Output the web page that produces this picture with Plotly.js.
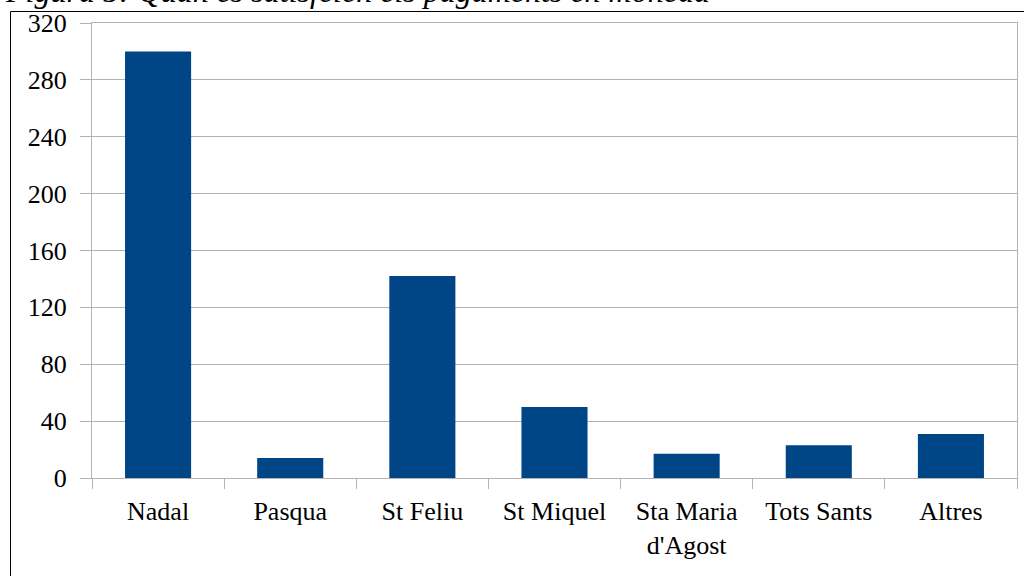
<!DOCTYPE html>
<html>
<head>
<meta charset="utf-8">
<script src="https://cdn.plot.ly/plotly-3.0.1.min.js"></script>
<style>
html,body{margin:0;padding:0;background:#fff;}
#chart{width:1024px;height:576px;}
</style>
</head>
<body>
<div id="chart"></div>
<script>
const titleText = "Figura 5: Quan es satisfeien els pagaments en moneda";
const categories = ["Nadal", "Pasqua", "St Feliu", "St Miquel", "Sta Maria<br>d'Agost", "Tots Sants", "Altres"];
const values = [300, 14, 142, 50, 17, 23, 31];
const yTicks = [0, 40, 80, 120, 160, 200, 240, 280, 320];

const W = 1024, H = 576;
const L = 92, R = 7, T = 23, B = 98;
const pw = W - L - R, ph = H - T - B;
const px2x = p => (p - L) / pw;
const py2y = p => (H - B - p) / ph;

const grid = '#b3b3b3';
const font = {family: '"Liberation Serif", "Times New Roman", serif', size: 26, color: '#000'};

const trace = {
  type: 'bar',
  x: categories,
  y: values,
  marker: {color: '#004586'},
  hoverinfo: 'x+y'
};

const layout = {
  width: W, height: H,
  margin: {l: L, r: R, t: T, b: B, pad: 0},
  paper_bgcolor: '#fff',
  plot_bgcolor: '#fff',
  showlegend: false,
  bargap: 0.5,
  font: font,
  xaxis: {
    type: 'category',
    tickson: 'boundaries',
    ticks: 'outside',
    ticklen: 10,
    tickcolor: grid,
    tickwidth: 1,
    showgrid: false,
    showline: true,
    linecolor: grid,
    linewidth: 1,
    mirror: true,
    tickfont: font,
    ticklabelstandoff: 10,
    fixedrange: true
  },
  yaxis: {
    range: [0, 320],
    tickvals: yTicks,
    ticktext: yTicks.map(String),
    ticks: 'outside',
    ticklen: 11,
    tickcolor: grid,
    tickwidth: 1,
    showgrid: true,
    gridcolor: grid,
    gridwidth: 1,
    zeroline: false,
    showline: true,
    linecolor: grid,
    linewidth: 1,
    mirror: true,
    tickfont: font,
    ticklabelstandoff: 8,
    fixedrange: true
  },
  shapes: [
    {type: 'line', xref: 'paper', yref: 'paper', x0: px2x(10.5), x1: px2x(1030), y0: py2y(11.5), y1: py2y(11.5), line: {color: '#000', width: 1}},
    {type: 'line', xref: 'paper', yref: 'paper', x0: px2x(10.5), x1: px2x(10.5), y0: py2y(11.5), y1: py2y(590), line: {color: '#000', width: 1}}
  ],
  annotations: [
    {
      text: titleText,
      xref: 'paper', yref: 'paper',
      x: px2x(3), y: py2y(-9),
      xanchor: 'left', yanchor: 'middle',
      showarrow: false,
      font: {family: '"Liberation Serif", "Times New Roman", serif', size: 32, color: '#000', style: 'italic'}
    }
  ]
};

Plotly.newPlot('chart', [trace], layout, {displayModeBar: false, staticPlot: true});
</script>
</body>
</html>
